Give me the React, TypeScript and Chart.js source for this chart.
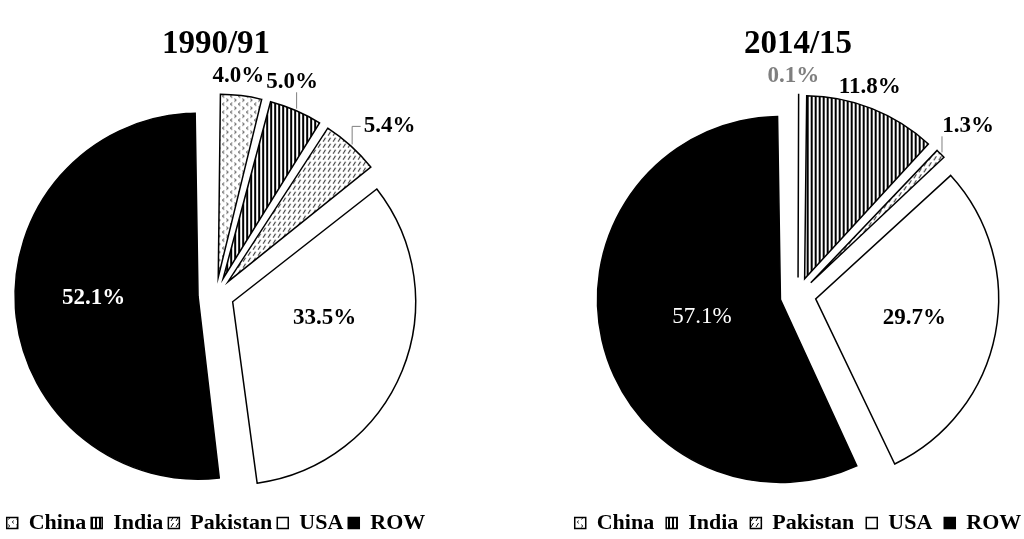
import React, { useEffect, useRef } from 'react';
import { Chart, registerables } from 'chart.js';

Chart.register(...registerables);

// ---------- data ----------
const CATEGORIES = ['China', 'India', 'Pakistan', 'USA', 'ROW'];
const SHARES_1990 = [4.0, 5.0, 5.4, 33.5, 52.1];
const SHARES_2014 = [0.1, 11.8, 1.3, 29.7, 57.1];
const TITLE_1990 = '1990/91';
const TITLE_2014 = '2014/15';

// ---------- style ----------
const SERIF = "'Liberation Serif', 'Times New Roman', Times, serif";
const EXPLODE_PX = 18;
const PIE_RADIUS = 183;
const LABEL_SIZE = 23;

type LabelSpot = {
  at: 'in' | 'out';
  dist: number;
  turn: number;
  leader?: boolean;
  color: string;
  weight: string;
};

const SPOTS_1990: LabelSpot[] = [
  { at: 'out', dist: 19, turn: -1.5, color: '#000', weight: 'bold' },
  { at: 'out', dist: 25, turn: -4, leader: true, color: '#000', weight: 'bold' },
  { at: 'out', dist: 41, turn: 4, leader: true, color: '#000', weight: 'bold' },
  { at: 'in', dist: 0.51, turn: -12, color: '#000', weight: 'bold' },
  { at: 'in', dist: 0.57, turn: 3, color: '#fff', weight: 'bold' },
];

const SPOTS_2014: LabelSpot[] = [
  { at: 'out', dist: 18, turn: -1.5, color: '#7f7f7f', weight: 'bold' },
  { at: 'out', dist: 19, turn: -2.8, color: '#000', weight: 'bold' },
  { at: 'out', dist: 39, turn: 0, leader: true, color: '#000', weight: 'bold' },
  { at: 'in', dist: 0.55, turn: 0, color: '#000', weight: 'bold' },
  { at: 'in', dist: 0.44, turn: 0, color: '#fff', weight: 'normal' },
];

function makeFills(ctx: CanvasRenderingContext2D): (string | CanvasPattern)[] {
  const tile = (w: number, h: number, draw: (g: CanvasRenderingContext2D) => void) => {
    const c = document.createElement('canvas');
    c.width = w;
    c.height = h;
    const g = c.getContext('2d')!;
    g.fillStyle = '#fff';
    g.fillRect(0, 0, w, h);
    draw(g);
    return ctx.createPattern(c, 'repeat') as CanvasPattern;
  };
  const china = tile(8, 8, (g) => {
    g.strokeStyle = '#444';
    g.lineWidth = 1;
    g.beginPath();
    g.moveTo(3, 0.5);
    g.lineTo(1, 2);
    g.lineTo(3, 3.5);
    g.moveTo(5, 4.5);
    g.lineTo(7, 6);
    g.lineTo(5, 7.5);
    g.stroke();
  });
  const india = tile(4, 4, (g) => {
    g.fillStyle = '#000';
    g.fillRect(0, 0, 2, 4);
  });
  const pakistan = tile(5, 6, (g) => {
    g.strokeStyle = '#000';
    g.lineWidth = 1;
    g.beginPath();
    g.moveTo(1, 5);
    g.lineTo(3.5, 1);
    g.stroke();
  });
  return [china, india, pakistan, '#ffffff', '#000000'];
}

const sliceLabelPlugin = {
  id: 'sliceLabels',
  beforeDatasetsDraw(chart: any) {
    // keep every exploded slice at the true radius
    const meta = chart.getDatasetMeta(0);
    const base = meta.controller.outerRadius;
    meta.data.forEach((arc: any) => {
      const off = (arc.options.offset || 0) / 4;
      const fix = 1 - Math.sin(Math.min(Math.PI, arc.circumference || 0));
      arc.outerRadius = base - off * fix;
    });
  },
  afterDatasetsDraw(chart: any, _args: any, opts: any) {
    const spots: LabelSpot[] = opts.spots;
    const ctx: CanvasRenderingContext2D = chart.ctx;
    const meta = chart.getDatasetMeta(0);
    const values: number[] = chart.data.datasets[0].data;
    const R = meta.controller.outerRadius;
    meta.data.forEach((arc: any, i: number) => {
      const s = spots[i];
      const mid = (arc.startAngle + arc.endAngle) / 2;
      const ang = mid + (s.turn * Math.PI) / 180;
      const ax = arc.x + Math.cos(mid) * EXPLODE_PX;
      const ay = arc.y + Math.sin(mid) * EXPLODE_PX;
      const d = s.at === 'in' ? s.dist * R : R + s.dist;
      const lx = ax + Math.cos(ang) * d;
      const ly = ay + Math.sin(ang) * d;
      const text = values[i].toFixed(1) + '%';
      ctx.save();
      ctx.font = `${s.weight} ${LABEL_SIZE}px ${SERIF}`;
      ctx.textAlign = 'center';
      ctx.textBaseline = 'middle';
      if (s.leader) {
        const w = ctx.measureText(text).width;
        const ex = ax + Math.cos(mid) * (R + 2);
        const ey = ay + Math.sin(mid) * (R + 2);
        const left = lx - w / 2 - 3;
        ctx.strokeStyle = '#7f7f7f';
        ctx.lineWidth = 1;
        ctx.beginPath();
        ctx.moveTo(ex, ey);
        if (ex < left) {
          ctx.lineTo(ex, ly);
          ctx.lineTo(left, ly);
        } else {
          ctx.lineTo(ex, ly + 10);
        }
        ctx.stroke();
      }
      ctx.fillStyle = s.color;
      ctx.fillText(text, lx, ly);
      ctx.restore();
    });
  },
};

type PieProps = {
  title: string;
  values: number[];
  spots: LabelSpot[];
  left: number;
  width: number;
  legendPad: number;
  titleGap: number;
  bottomPad: number;
};

function PieChart({ title, values, spots, left, width, legendPad, titleGap, bottomPad }: PieProps) {
  const ref = useRef<HTMLCanvasElement>(null);
  useEffect(() => {
    const canvas = ref.current!;
    const ctx = canvas.getContext('2d')!;
    const fills = makeFills(ctx);
    const chart = new Chart(canvas, {
      type: 'pie',
      data: {
        labels: CATEGORIES,
        datasets: [
          {
            data: values,
            backgroundColor: fills as any,
            borderColor: '#000',
            borderWidth: 1.5,
            borderJoinStyle: 'miter',
            offset: EXPLODE_PX * 4,
            hoverOffset: 0,
            radius: PIE_RADIUS,
          } as any,
        ],
      },
      options: {
        responsive: false,
        animation: false,
        devicePixelRatio: 1,
        events: [],
        layout: { padding: { top: 0, left: 0, right: 0, bottom: bottomPad } },
        plugins: {
          title: {
            display: true,
            text: title,
            color: '#000',
            font: { family: SERIF, size: 33, weight: 'bold' },
            padding: { top: 25, bottom: titleGap },
          },
          legend: {
            display: true,
            position: 'bottom',
            labels: {
              color: '#000',
              font: { family: SERIF, size: 22, weight: 'bold' },
              boxWidth: 11,
              boxHeight: 11,
              padding: legendPad,
            },
          },
          tooltip: { enabled: false },
          sliceLabels: { spots },
        } as any,
      },
      plugins: [sliceLabelPlugin as any],
    });
    return () => chart.destroy();
  }, []);
  return (
    <canvas
      ref={ref}
      width={width}
      height={539}
      style={{ position: 'absolute', left, top: 0, width, height: 539 }}
    />
  );
}

export default function App() {
  return (
    <div
      style={{
        position: 'fixed',
        left: 0,
        top: 0,
        width: 1024,
        height: 539,
        overflow: 'hidden',
        background: '#fff',
      }}
    >
      <PieChart
        title={TITLE_1990}
        values={SHARES_1990}
        spots={SPOTS_1990}
        left={-5}
        width={442}
        legendPad={5}
        titleGap={18.4}
        bottomPad={-5}
      />
      <PieChart
        title={TITLE_2014}
        values={SHARES_2014}
        spots={SPOTS_2014}
        left={560}
        width={476}
        legendPad={12}
        titleGap={26.4}
        bottomPad={-5}
      />
    </div>
  );
}
